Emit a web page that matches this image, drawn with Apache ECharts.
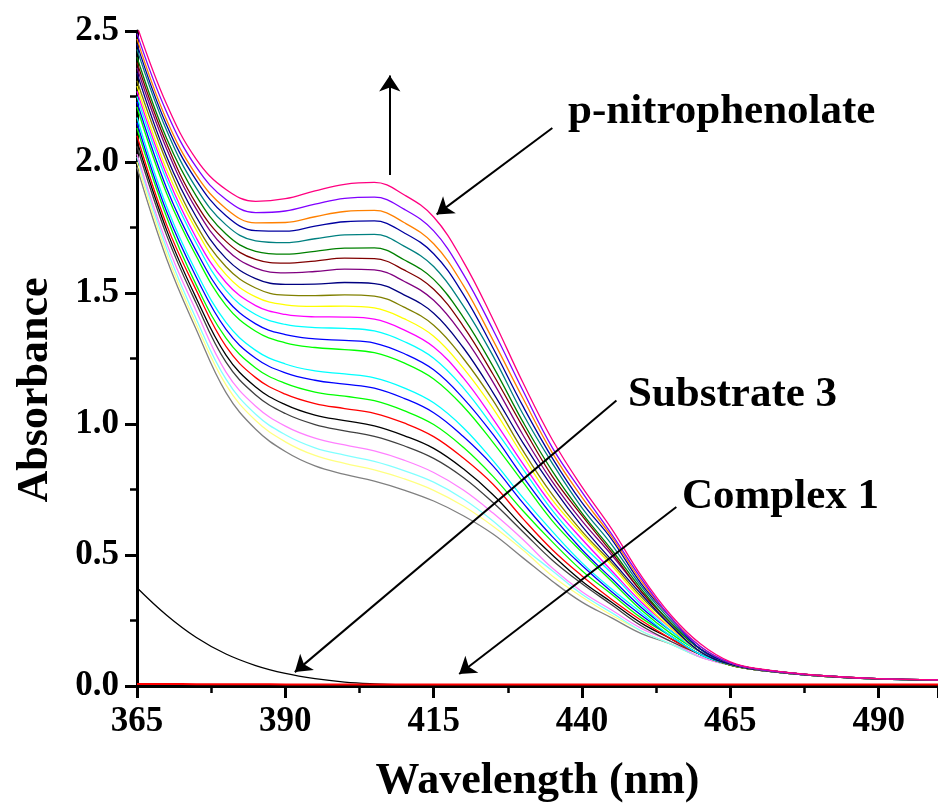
<!DOCTYPE html>
<html>
<head>
<meta charset="utf-8">
<title>Absorbance</title>
<script src="https://cdn.jsdelivr.net/npm/echarts@6/dist/echarts.min.js"></script>
<style>
    html, body { margin: 0; padding: 0; background: #fff; }
    #chart { width: 938px; height: 810px; }
</style>
</head>
<body>
<div id="chart"></div>
<script>
// x values (nm)
var wavelength = [365, 370, 375, 380, 385, 390, 395, 400, 405, 410, 415, 420, 425,
    430, 435, 440, 445, 450, 455, 460, 465, 470, 480, 490, 500];

// successive scans, lowest first
var scan01 = [1.98, 1.63, 1.36, 1.120, 0.980, 0.895, 0.840, 0.808, 0.782, 0.748, 0.706, 0.650, 0.58, 0.49, 0.40, 0.32, 0.26, 0.20, 0.16, 0.11, 0.080, 0.060, 0.038, 0.027, 0.023];
var scan02 = [2.00, 1.65, 1.38, 1.149, 1.013, 0.932, 0.880, 0.850, 0.825, 0.791, 0.747, 0.687, 0.61, 0.52, 0.42, 0.34, 0.27, 0.21, 0.16, 0.11, 0.080, 0.060, 0.038, 0.027, 0.023];
var scan03 = [2.02, 1.67, 1.40, 1.171, 1.037, 0.959, 0.909, 0.881, 0.857, 0.822, 0.778, 0.714, 0.63, 0.53, 0.44, 0.35, 0.28, 0.21, 0.16, 0.11, 0.080, 0.060, 0.038, 0.027, 0.023];
var scan04 = [2.03, 1.69, 1.43, 1.198, 1.068, 0.992, 0.946, 0.920, 0.897, 0.862, 0.815, 0.748, 0.66, 0.56, 0.45, 0.36, 0.29, 0.22, 0.17, 0.11, 0.080, 0.060, 0.038, 0.027, 0.023];
var scan05 = [2.06, 1.72, 1.46, 1.236, 1.111, 1.040, 0.998, 0.974, 0.953, 0.917, 0.869, 0.796, 0.70, 0.59, 0.48, 0.39, 0.31, 0.23, 0.17, 0.12, 0.080, 0.060, 0.038, 0.027, 0.023];
var scan06 = [2.08, 1.74, 1.48, 1.263, 1.141, 1.074, 1.034, 1.013, 0.993, 0.956, 0.907, 0.829, 0.73, 0.61, 0.50, 0.40, 0.32, 0.24, 0.18, 0.12, 0.080, 0.060, 0.038, 0.027, 0.023];
var scan07 = [2.10, 1.76, 1.51, 1.296, 1.177, 1.114, 1.078, 1.059, 1.041, 1.004, 0.952, 0.870, 0.77, 0.64, 0.52, 0.42, 0.33, 0.25, 0.18, 0.12, 0.080, 0.060, 0.038, 0.027, 0.023];
var scan08 = [2.13, 1.79, 1.53, 1.328, 1.214, 1.155, 1.122, 1.106, 1.089, 1.051, 0.998, 0.911, 0.80, 0.67, 0.55, 0.44, 0.35, 0.26, 0.19, 0.12, 0.080, 0.060, 0.038, 0.027, 0.023];
var scan09 = [2.15, 1.81, 1.56, 1.361, 1.251, 1.195, 1.167, 1.152, 1.137, 1.098, 1.043, 0.952, 0.84, 0.70, 0.57, 0.46, 0.36, 0.27, 0.19, 0.12, 0.083, 0.061, 0.039, 0.027, 0.023];
var scan10 = [2.17, 1.83, 1.58, 1.388, 1.281, 1.229, 1.203, 1.191, 1.176, 1.138, 1.081, 0.986, 0.86, 0.72, 0.59, 0.47, 0.37, 0.28, 0.19, 0.12, 0.083, 0.061, 0.039, 0.027, 0.023];
var scan11 = [2.21, 1.88, 1.64, 1.453, 1.354, 1.310, 1.292, 1.284, 1.272, 1.233, 1.172, 1.067, 0.93, 0.78, 0.63, 0.51, 0.40, 0.29, 0.20, 0.13, 0.083, 0.061, 0.039, 0.027, 0.023];
var scan12 = [2.23, 1.90, 1.66, 1.478, 1.382, 1.341, 1.325, 1.319, 1.309, 1.269, 1.207, 1.098, 0.96, 0.80, 0.65, 0.52, 0.41, 0.30, 0.21, 0.13, 0.083, 0.061, 0.039, 0.027, 0.023];
var scan13 = [2.25, 1.93, 1.69, 1.510, 1.418, 1.380, 1.368, 1.365, 1.355, 1.315, 1.251, 1.138, 0.99, 0.83, 0.67, 0.54, 0.43, 0.31, 0.21, 0.13, 0.083, 0.061, 0.039, 0.027, 0.023];
var scan14 = [2.27, 1.95, 1.71, 1.540, 1.452, 1.418, 1.409, 1.408, 1.400, 1.359, 1.294, 1.176, 1.02, 0.85, 0.69, 0.56, 0.44, 0.32, 0.22, 0.13, 0.083, 0.061, 0.039, 0.027, 0.023];
var scan15 = [2.29, 1.97, 1.74, 1.570, 1.485, 1.455, 1.449, 1.450, 1.443, 1.402, 1.335, 1.213, 1.06, 0.88, 0.71, 0.58, 0.46, 0.33, 0.22, 0.13, 0.083, 0.061, 0.039, 0.027, 0.023];
var scan16 = [2.31, 2.00, 1.76, 1.600, 1.519, 1.492, 1.490, 1.493, 1.488, 1.446, 1.377, 1.250, 1.09, 0.90, 0.73, 0.59, 0.47, 0.34, 0.23, 0.13, 0.083, 0.061, 0.039, 0.027, 0.023];
var scan17 = [2.34, 2.02, 1.79, 1.632, 1.555, 1.533, 1.534, 1.540, 1.536, 1.493, 1.423, 1.291, 1.12, 0.93, 0.76, 0.61, 0.48, 0.35, 0.23, 0.13, 0.083, 0.061, 0.039, 0.027, 0.023];
var scan18 = [2.36, 2.05, 1.82, 1.668, 1.595, 1.577, 1.582, 1.591, 1.588, 1.545, 1.472, 1.336, 1.16, 0.96, 0.78, 0.63, 0.50, 0.36, 0.24, 0.14, 0.088, 0.063, 0.040, 0.028, 0.023];
var scan19 = [2.38, 2.07, 1.84, 1.697, 1.628, 1.614, 1.622, 1.633, 1.631, 1.588, 1.514, 1.373, 1.19, 0.99, 0.80, 0.65, 0.51, 0.36, 0.24, 0.14, 0.088, 0.063, 0.040, 0.028, 0.023];
var scan20 = [2.40, 2.09, 1.87, 1.725, 1.659, 1.648, 1.659, 1.671, 1.672, 1.627, 1.552, 1.407, 1.22, 1.01, 0.82, 0.66, 0.52, 0.37, 0.24, 0.14, 0.088, 0.063, 0.040, 0.028, 0.023];
var scan21 = [2.43, 2.12, 1.90, 1.760, 1.699, 1.692, 1.707, 1.722, 1.724, 1.679, 1.601, 1.451, 1.26, 1.04, 0.85, 0.68, 0.54, 0.38, 0.25, 0.14, 0.088, 0.063, 0.040, 0.028, 0.023];
var scan22 = [2.45, 2.14, 1.93, 1.795, 1.738, 1.736, 1.755, 1.772, 1.775, 1.730, 1.650, 1.495, 1.29, 1.07, 0.87, 0.70, 0.56, 0.39, 0.26, 0.14, 0.088, 0.063, 0.040, 0.028, 0.023];
var scan23 = [2.47, 2.16, 1.95, 1.822, 1.768, 1.769, 1.791, 1.811, 1.815, 1.769, 1.688, 1.529, 1.32, 1.10, 0.89, 0.72, 0.57, 0.40, 0.26, 0.15, 0.088, 0.063, 0.040, 0.028, 0.023];
var scan24 = [2.49, 2.19, 1.98, 1.857, 1.807, 1.813, 1.839, 1.861, 1.866, 1.820, 1.737, 1.572, 1.36, 1.13, 0.91, 0.74, 0.58, 0.41, 0.26, 0.15, 0.088, 0.063, 0.040, 0.028, 0.023];
var scan25 = [2.52, 2.22, 2.01, 1.895, 1.850, 1.860, 1.890, 1.915, 1.922, 1.875, 1.790, 1.620, 1.40, 1.16, 0.94, 0.76, 0.60, 0.42, 0.27, 0.16, 0.092, 0.065, 0.040, 0.028, 0.023];

// reference spectra
var substrate3 = [0.375, 0.27, 0.185, 0.122, 0.078, 0.048, 0.028, 0.015, 0.008, 0.004, 0.002, 0.001, 0.001, 0.001, 0.001, 0.001, 0.001, 0.001, 0.001, 0.001, 0.001, 0.001, 0.001, 0.001, 0.001];
var complex1 = [0.008, 0.008, 0.007, 0.007, 0.007, 0.006, 0.006, 0.006, 0.006, 0.006, 0.006, 0.006, 0.006, 0.006, 0.006, 0.006, 0.006, 0.006, 0.006, 0.006, 0.006, 0.006, 0.006, 0.006, 0.006];

var scans = [scan01, scan02, scan03, scan04, scan05, scan06, scan07, scan08, scan09, scan10,
    scan11, scan12, scan13, scan14, scan15, scan16, scan17, scan18, scan19, scan20,
    scan21, scan22, scan23, scan24, scan25];

// origin style colour list, same order as scans
var scanColors = ['#808080', '#FFFF80', '#80FFFF', '#FF80FF', '#404040', '#000000', '#FF0000',
    '#00FF00', '#0000FF', '#00FFFF', '#00FF00', '#0000FF', '#00FFFF', '#FF00FF', '#FFFF00',
    '#808000', '#000080', '#800080', '#800000', '#008000', '#008080', '#0000A0', '#FF8000',
    '#8000FF', '#FF0080'];

// arrows, [from, to] in data coords
var arrows = [
    [[407.6, 1.95], [407.6, 2.33]],
    [[435.0, 2.13], [415.5, 1.80]],
    [[445.8, 1.09], [391.6, 0.053]],
    [[455.9, 0.683], [419.3, 0.046]]
];

var FONT = '"Liberation Serif", "Times New Roman", serif';

function pairs(ys) {
    return wavelength.map(function(x, i) { return [x, ys[i]]; });
}

var series = [];
scans.forEach(function(s, i) {
    series.push({
        name: 'scan' + (i + 1),
        type: 'line',
        data: pairs(s),
        smooth: 0.4,
        showSymbol: false,
        lineStyle: { color: scanColors[i], width: 1.3 },
        silent: true
    });
});

series.push({
    name: 'Substrate 3',
    type: 'line',
    data: pairs(substrate3),
    smooth: 0.4,
    showSymbol: false,
    lineStyle: { color: '#000', width: 1.3 },
    silent: true,
    markLine: {
        silent: true,
        symbol: ['none', 'arrow'],
        symbolSize: 16,
        label: { show: false },
        lineStyle: { color: '#000', width: 2, type: 'solid' },
        data: arrows.map(function(a) {
            return [{ coord: a[0] }, { coord: a[1] }];
        })
    }
});

series.push({
    name: 'Complex 1',
    type: 'line',
    data: pairs(complex1),
    smooth: 0.4,
    showSymbol: false,
    lineStyle: { color: '#FF0000', width: 2 },
    silent: true
});

var chart = echarts.init(document.getElementById('chart'));
chart.setOption({
    animation: false,
    backgroundColor: '#fff',
    grid: { left: 137, right: 0, top: 31, bottom: 124 },
    xAxis: {
        type: 'value',
        min: 365,
        max: 500,
        interval: 25,
        name: 'Wavelength (nm)',
        nameLocation: 'middle',
        nameGap: 74,
        nameTextStyle: { fontFamily: FONT, fontWeight: 'bold', fontSize: 44, color: '#000' },
        axisLine: { lineStyle: { color: '#000', width: 3 } },
        axisTick: { length: 12, lineStyle: { width: 3, color: '#000' } },
        minorTick: { show: true, splitNumber: 2, length: 7, lineStyle: { width: 2.5, color: '#000' } },
        axisLabel: { fontFamily: FONT, fontWeight: 'bold', fontSize: 35, color: '#000', margin: 18, showMaxLabel: false },
        splitLine: { show: false }
    },
    yAxis: {
        type: 'value',
        min: 0,
        max: 2.5,
        interval: 0.5,
        axisLine: { show: true, lineStyle: { color: '#000', width: 3 } },
        axisTick: { show: true, length: 12, lineStyle: { width: 3, color: '#000' } },
        minorTick: { show: true, splitNumber: 2, length: 7, lineStyle: { width: 2.5, color: '#000' } },
        axisLabel: {
            fontFamily: FONT, fontWeight: 'bold', fontSize: 35, color: '#000', margin: 18,
            formatter: function(v) { return v.toFixed(1); }
        },
        splitLine: { show: false }
    },
    graphic: [
        {
            type: 'text', x: 36, y: 390, rotation: Math.PI / 2,
            style: { text: 'Absorbance', font: 'bold 44px ' + FONT, fill: '#000', align: 'center', verticalAlign: 'middle' }
        },
        {
            type: 'text', x: 568, y: 112,
            style: { text: 'p-nitrophenolate', font: 'bold 43px ' + FONT, fill: '#000', align: 'left', verticalAlign: 'middle' }
        },
        {
            type: 'text', x: 628, y: 395,
            style: { text: 'Substrate 3', font: 'bold 43px ' + FONT, fill: '#000', align: 'left', verticalAlign: 'middle' }
        },
        {
            type: 'text', x: 682, y: 497,
            style: { text: 'Complex 1', font: 'bold 43px ' + FONT, fill: '#000', align: 'left', verticalAlign: 'middle' }
        }
    ],
    series: series
});
</script>
</body>
</html>
